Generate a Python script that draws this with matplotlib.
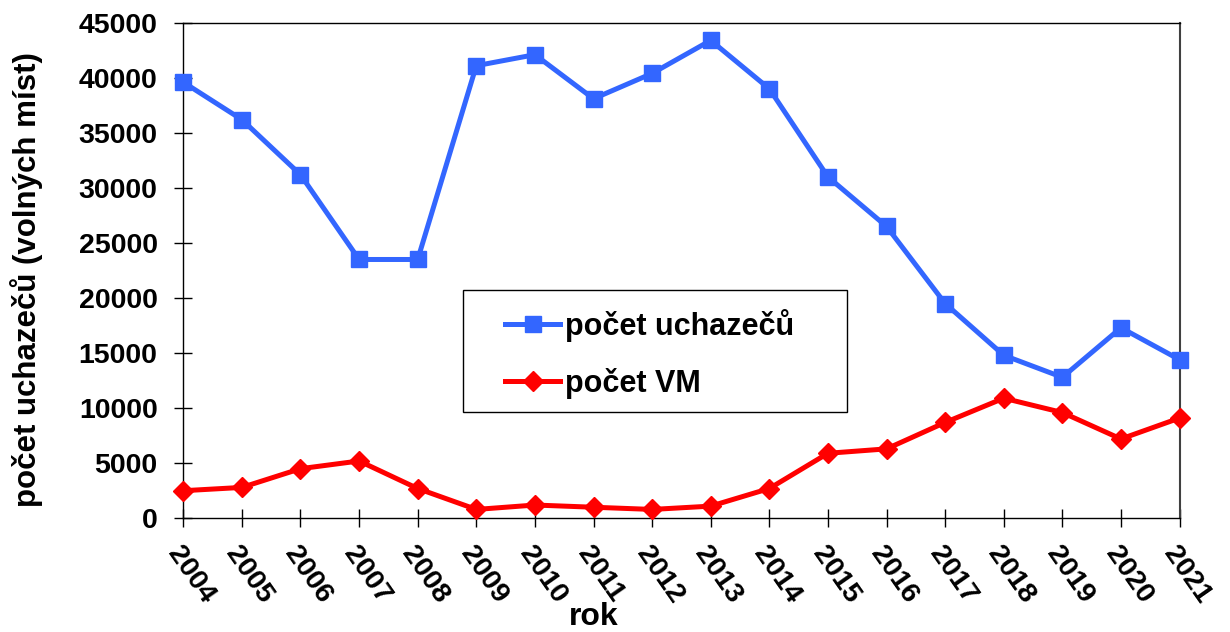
import matplotlib.pyplot as plt
from matplotlib.patches import Rectangle

plt.rcParams['font.family'] = ['Liberation Sans', 'DejaVu Sans']
plt.rcParams['font.weight'] = 'bold'

# data
roky = list(range(2004, 2022))
uchazeci = [39600, 36200, 31200, 23500, 23500, 41100, 42100, 38100, 40400, 43400,
            39000, 31000, 26500, 19500, 14800, 12800, 17300, 14400]
volna_mista = [2500, 2800, 4500, 5200, 2700, 800, 1200, 1000, 800, 1100,
               2700, 5900, 6300, 8700, 10900, 9600, 7200, 9100]

fig = plt.figure(figsize=(12.3, 6.32), dpi=100)
ax = fig.add_axes([0.149, 0.180, 0.810, 0.784])

ax.plot(roky, uchazeci, color='#3366FF', lw=3.6, marker='s', ms=11,
        label='počet uchazečů', clip_on=False, zorder=3)
ax.plot(roky, volna_mista, color='#FF0000', lw=3.6, marker='D', ms=10,
        label='počet VM', clip_on=False, zorder=3)

ax.set_xlim(2004, 2021)
ax.set_ylim(0, 45000)
ax.set_xticks(roky)
ax.set_yticks(range(0, 45001, 5000))
ax.tick_params(axis='both', labelsize=20.5, direction='inout', length=13, width=1)
ax.tick_params(axis='y', pad=12)
ax.tick_params(axis='x', pad=10)
for lab in ax.get_xticklabels():
    lab.set_rotation(-55)
    lab.set_ha('left')
    lab.set_va('top')
    lab.set_rotation_mode('anchor')

for s in ['left', 'bottom', 'top']:
    ax.spines[s].set_linewidth(1)
ax.spines['right'].set_color('#404040')
ax.spines['right'].set_linewidth(1.5)

ax.set_xlabel('rok', fontsize=23, fontweight='bold', va='baseline')
ax.xaxis.set_label_coords(0.412, -0.216)
ax.set_ylabel('počet uchazečů (volných míst)', fontsize=22.5, fontweight='bold')
ax.yaxis.set_label_coords(-0.141, 0.481)

# legend frame drawn separately so that it can be wider than its content
ax.add_patch(Rectangle((0.281, 0.214), 0.385, 0.247, transform=ax.transAxes,
                       facecolor='white', edgecolor='black', lw=1, zorder=4))
leg = ax.legend(loc='center left', bbox_to_anchor=(0.323, 0.332),
                fontsize=22, frameon=False, borderpad=0, borderaxespad=0,
                labelspacing=0.86, handlelength=1.8, handletextpad=0.15)
leg.set_zorder(5)
for t in leg.get_texts():
    t.set_fontweight('bold')

fig.savefig('out.png', dpi=100)
